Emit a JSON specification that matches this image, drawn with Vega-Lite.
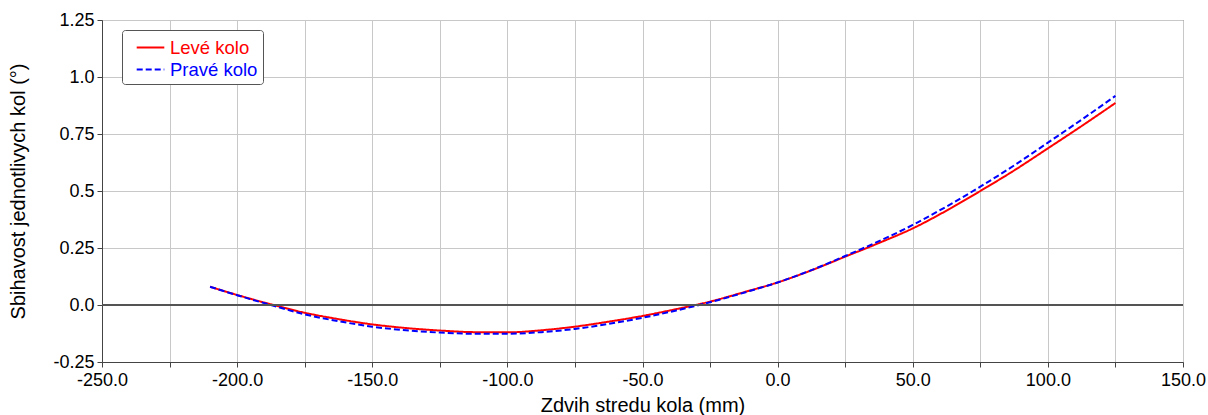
{
  "$schema": "https://vega.github.io/schema/vega-lite/v6.json",
  "width": 1081,
  "height": 342,
  "autosize": "none",
  "padding": {"left": 102, "top": 20, "right": 25, "bottom": 53},
  "background": "white",
  "config": {
    "view": {"stroke": "#444", "strokeWidth": 1},
    "axis": {
      "labelFont": "Liberation Sans", "labelFontSize": 18, "labelColor": "#000",
      "titleFont": "Liberation Sans", "titleFontSize": 20, "titleFontWeight": "normal", "titleColor": "#000",
      "domainColor": "#444", "tickColor": "#444", "tickSize": 5, "gridColor": "#c8c8c8", "gridWidth": 1,
      "labelOverlap": false, "labelBound": false, "labelFlush": false
    },
    "legend": {
      "orient": "none", "legendX": 20, "legendY": 10,
      "padding": 5, "strokeColor": "#555", "fillColor": "white", "cornerRadius": 3,
      "symbolType": "M-1.2,0H1.2", "symbolSize": 529, "symbolStrokeWidth": 2, "symbolOffset": 11,
      "labelFont": "Liberation Sans", "labelFontSize": 18.5, "labelOffset": 7, "labelLimit": 0,
      "rowPadding": 0
    }
  },
  "data": {"values": [
    {"x": -210, "y": 0.080, "series": "Levé kolo"},
    {"x": -200, "y": 0.044, "series": "Levé kolo"},
    {"x": -187.5, "y": 0.003, "series": "Levé kolo"},
    {"x": -175, "y": -0.034, "series": "Levé kolo"},
    {"x": -162.5, "y": -0.062, "series": "Levé kolo"},
    {"x": -150, "y": -0.085, "series": "Levé kolo"},
    {"x": -137.5, "y": -0.101, "series": "Levé kolo"},
    {"x": -125, "y": -0.112, "series": "Levé kolo"},
    {"x": -112.5, "y": -0.119, "series": "Levé kolo"},
    {"x": -100, "y": -0.120, "series": "Levé kolo"},
    {"x": -87.5, "y": -0.111, "series": "Levé kolo"},
    {"x": -75, "y": -0.095, "series": "Levé kolo"},
    {"x": -62.5, "y": -0.073, "series": "Levé kolo"},
    {"x": -50, "y": -0.048, "series": "Levé kolo"},
    {"x": -37.5, "y": -0.018, "series": "Levé kolo"},
    {"x": -25, "y": 0.015, "series": "Levé kolo"},
    {"x": -12.5, "y": 0.056, "series": "Levé kolo"},
    {"x": 0, "y": 0.099, "series": "Levé kolo"},
    {"x": 12.5, "y": 0.152, "series": "Levé kolo"},
    {"x": 25, "y": 0.212, "series": "Levé kolo"},
    {"x": 37.5, "y": 0.272, "series": "Levé kolo"},
    {"x": 50, "y": 0.336, "series": "Levé kolo"},
    {"x": 62.5, "y": 0.414, "series": "Levé kolo"},
    {"x": 75, "y": 0.500, "series": "Levé kolo"},
    {"x": 87.5, "y": 0.590, "series": "Levé kolo"},
    {"x": 100, "y": 0.687, "series": "Levé kolo"},
    {"x": 112.5, "y": 0.785, "series": "Levé kolo"},
    {"x": 125, "y": 0.886, "series": "Levé kolo"},
    {"x": -210, "y": 0.080, "series": "Pravé kolo"},
    {"x": -200, "y": 0.043, "series": "Pravé kolo"},
    {"x": -187.5, "y": 0.000, "series": "Pravé kolo"},
    {"x": -175, "y": -0.041, "series": "Pravé kolo"},
    {"x": -162.5, "y": -0.071, "series": "Pravé kolo"},
    {"x": -150, "y": -0.095, "series": "Pravé kolo"},
    {"x": -137.5, "y": -0.111, "series": "Pravé kolo"},
    {"x": -125, "y": -0.121, "series": "Pravé kolo"},
    {"x": -112.5, "y": -0.126, "series": "Pravé kolo"},
    {"x": -100, "y": -0.126, "series": "Pravé kolo"},
    {"x": -87.5, "y": -0.119, "series": "Pravé kolo"},
    {"x": -75, "y": -0.105, "series": "Pravé kolo"},
    {"x": -62.5, "y": -0.083, "series": "Pravé kolo"},
    {"x": -50, "y": -0.056, "series": "Pravé kolo"},
    {"x": -37.5, "y": -0.024, "series": "Pravé kolo"},
    {"x": -25, "y": 0.012, "series": "Pravé kolo"},
    {"x": -12.5, "y": 0.054, "series": "Pravé kolo"},
    {"x": 0, "y": 0.099, "series": "Pravé kolo"},
    {"x": 12.5, "y": 0.153, "series": "Pravé kolo"},
    {"x": 25, "y": 0.215, "series": "Pravé kolo"},
    {"x": 37.5, "y": 0.280, "series": "Pravé kolo"},
    {"x": 50, "y": 0.351, "series": "Pravé kolo"},
    {"x": 62.5, "y": 0.432, "series": "Pravé kolo"},
    {"x": 75, "y": 0.519, "series": "Pravé kolo"},
    {"x": 87.5, "y": 0.612, "series": "Pravé kolo"},
    {"x": 100, "y": 0.712, "series": "Pravé kolo"},
    {"x": 112.5, "y": 0.813, "series": "Pravé kolo"},
    {"x": 125, "y": 0.917, "series": "Pravé kolo"}
  ]},
  "layer": [
    {
      "mark": {"type": "line", "interpolate": "monotone", "strokeWidth": 2},
      "encoding": {
        "x": {
          "field": "x", "type": "quantitative",
          "scale": {"domain": [-250, 150], "nice": false, "zero": false},
          "axis": {
            "title": "Zdvih stredu kola (mm)", "titlePadding": 6, "grid": true,
            "values": [-250,-225,-200,-175,-150,-125,-100,-75,-50,-25,0,25,50,75,100,125,150],
            "labelExpr": "datum.value % 50 === 0 ? replace(format(datum.value, '.1f'), '\u2212', '-') : ''",
            "labelPadding": 4
          }
        },
        "y": {
          "field": "y", "type": "quantitative",
          "scale": {"domain": [-0.25, 1.25], "nice": false, "zero": false},
          "axis": {
            "title": "Sbihavost jednotlivych kol (°)", "titlePadding": 24, "grid": true,
            "values": [-0.25,-0.125,0,0.125,0.25,0.375,0.5,0.625,0.75,0.875,1,1.125,1.25],
            "labelExpr": "(datum.value * 4) % 1 === 0 ? replace((datum.value * 2) % 1 === 0 ? format(datum.value, '.1f') : format(datum.value, '.2f'), '\u2212', '-') : ''",
            "labelPadding": 3
          }
        },
        "color": {
          "field": "series", "type": "nominal",
          "scale": {"domain": ["Levé kolo", "Pravé kolo"], "range": ["#ff0000", "#0000ff"]},
          "legend": {
            "title": null,
            "encode": {"labels": {"update": {"fill": {"signal": "datum.value === 'Levé kolo' ? '#ff0000' : '#0000ff'"}}}}
          }
        },
        "strokeDash": {
          "field": "series", "type": "nominal",
          "scale": {"domain": ["Levé kolo", "Pravé kolo"], "range": [[1, 0], [6, 3]]},
          "legend": {"title": null}
        }
      }
    },
    {
      "mark": {"type": "rule", "color": "#555", "strokeWidth": 1.3},
      "encoding": {"y": {"datum": 0, "type": "quantitative"}}
    }
  ]
}
